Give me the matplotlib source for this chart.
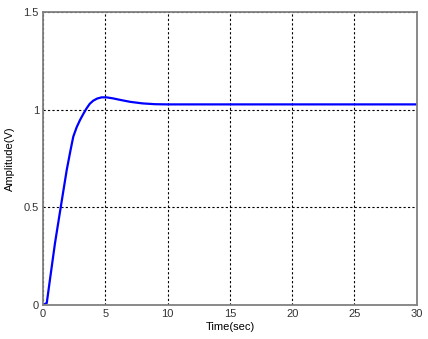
import matplotlib
matplotlib.use("Agg")
import matplotlib.pyplot as plt

plt.rcParams['font.family'] = ['Liberation Sans', 'DejaVu Sans']

# step response
t = [0, 0.3, 0.6, 0.96, 1.42, 1.9, 2.2, 2.43, 2.7, 2.97, 3.25, 3.5, 3.75, 4.03, 4.35, 4.7, 5.1, 5.6, 6.2, 7.0, 8.0, 9.0, 10, 30]
amp = [0, 0.01, 0.15, 0.316, 0.5, 0.69, 0.79, 0.862, 0.91, 0.947, 0.98, 1.007, 1.03, 1.046, 1.057, 1.063, 1.063, 1.058, 1.05, 1.04, 1.032, 1.028, 1.027, 1.027]

xticks = [0, 5, 10, 15, 20, 25, 30]
yticks = [0, 0.5, 1, 1.5]
yticklabels = ['0', '0.5', '1', '1.5']

fig = plt.figure(figsize=(4.28, 3.39), dpi=100)
ax = fig.add_axes([0.1005, 0.1003, 0.8733, 0.8643])

ax.plot(t, amp, color='#0000ff', linewidth=1.6)

ax.set_xlim(0, 30)
ax.set_ylim(0, 1.5)
ax.set_xticks(xticks)
ax.set_yticks(yticks)
ax.set_yticklabels(yticklabels)

ax.grid(True, color='black', linestyle=(0, (2, 2)), linewidth=0.8)
ax.tick_params(direction='in', length=0, labelsize=8, colors='#333333', pad=3)
for s in ax.spines.values():
    s.set_color('#808080')
    s.set_linewidth(1.3)

ax.set_xlabel('Time(sec)', fontsize=8, labelpad=2)
ax.set_ylabel('Amplitude(V)', fontsize=8, labelpad=6)

fig.savefig('out.png', dpi=100)
